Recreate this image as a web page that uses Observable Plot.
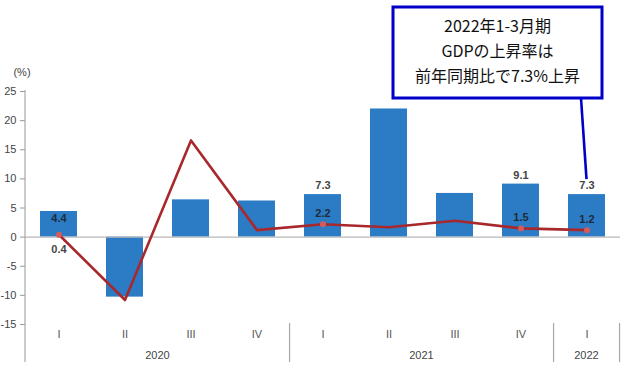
<!DOCTYPE html>
<html><head><meta charset="utf-8">
<script src="https://cdn.jsdelivr.net/npm/d3@7"></script>
<script src="https://cdn.jsdelivr.net/npm/@observablehq/plot@0.6"></script>
<style>body{margin:0;background:#fff}#chart{width:630px;height:374px}</style>
</head><body><div id="chart"></div>
<script>
const years = ["2020","2020","2020","2020","2021","2021","2021","2021","2022"];
const quarters = ["I","II","III","IV","I","II","III","IV","I"];
const yoy = [4.4, -10.3, 6.4, 6.2, 7.3, 22.0, 7.5, 9.1, 7.3];
const qoq = [0.4, -10.8, 16.6, 1.2, 2.2, 1.7, 2.8, 1.5, 1.2];
const yoyLabels = ["4.4", "", "", "", "7.3", "", "", "9.1", "7.3"];
const qoqLabels = ["0.4", "", "", "", "2.2", "", "", "1.5", "1.2"];
const yTicks = [-15, -10, -5, 0, 5, 10, 15, 20, 25];
const unitLabel = "(%)";
const calloutLines = ["2022年1-3月期", "GDPの上昇率は", "前年同期比で7.3%上昇"];

const keys = years.map((y, i) => `${y}-${quarters[i]}`);
const rows = keys.map((k, i) => ({key: k, q: quarters[i], year: years[i], yoy: yoy[i], qoq: qoq[i], yl: yoyLabels[i], ql: qoqLabels[i], i}));

const BAR = "#2b7bc5", LINE = "#a8282c", DOT = "#d65a5a";

const chart = Plot.plot({
  width: 630, height: 374,
  marginLeft: 25, marginRight: 10, marginTop: 91, marginBottom: 50,
  style: {fontFamily: "'Liberation Sans', Arial, sans-serif", fontSize: "11px", background: "#fff", overflow: "visible"},
  x: {domain: keys, paddingInner: 0.44, paddingOuter: 0.22, axis: null},
  y: {domain: [-15, 25], axis: null},
  marks: [
    Plot.barY(rows, {x: "key", y: "yoy", fill: BAR}),
    Plot.ruleY([0], {stroke: "#b8b8b8", strokeWidth: 1.2}),
    Plot.axisY({ticks: yTicks, tickFormat: d => String(d), tickSize: 5, tickPadding: 4, stroke: "#999", color: "#444", fontSize: 11}),
    Plot.line(rows, {x: "key", y: "qoq", stroke: LINE, strokeWidth: 2.6}),
    Plot.dot(rows.filter(d => d.ql), {x: "key", y: "qoq", r: 3, fill: DOT}),
    Plot.text(rows.filter(d => d.yl && d.i === 0), {x: "key", y: "yoy", text: "yl", dy: 7, fill: "#1e2b3a", fontWeight: "bold", fontSize: 11}),
    Plot.text(rows.filter(d => d.yl && d.i !== 0), {x: "key", y: "yoy", text: "yl", dy: -9, fill: "#444", fontWeight: "bold", fontSize: 11}),
    Plot.text(rows.filter(d => d.ql && d.i === 0), {x: "key", y: "qoq", text: "ql", dy: 15, fill: "#444", fontWeight: "bold", fontSize: 11}),
    Plot.text(rows.filter(d => d.ql && d.i !== 0), {x: "key", y: "qoq", text: "ql", dy: -11, fill: "#1e2b3a", fontWeight: "bold", fontSize: 11}),
    Plot.text(rows, {x: "key", text: "q", frameAnchor: "bottom", dy: 13, fill: "#555", fontSize: 11})
  ]
});
document.getElementById("chart").appendChild(chart);

// Post-layout using the chart's own scales
const svg = d3.select(chart);
const xs = chart.scale("x"), ys = chart.scale("y");
const [xr0, xr1] = xs.range;
const step = (xr1 - xr0) / keys.length;
const bw = xs.bandwidth;
const center = k => xs.apply(k) + bw / 2;
const bottom = 362;
const axisTop = ys.apply(25) - 1;
const frameBottom = ys.apply(-15);

const g = svg.append("g");
g.append("line").attr("x1", xr0).attr("x2", xr0).attr("y1", axisTop).attr("y2", bottom)
  .attr("stroke", "#a8a8a8").attr("stroke-width", 1.2);
const groups = d3.groups(keys.map((k, i) => ({k, i, y: years[i]})), d => d.y);
groups.forEach(([yr, items]) => {
  const last = items[items.length - 1];
  const xe = xs.apply(last.k) + bw + (step - bw) / 2;
  g.append("line").attr("x1", xe).attr("x2", xe).attr("y1", frameBottom - 1).attr("y2", bottom)
    .attr("stroke", "#a8a8a8").attr("stroke-width", 1.2);
  const cx = d3.mean(items, d => center(d.k));
  g.append("text").attr("x", cx).attr("y", 356).attr("text-anchor", "middle")
    .attr("dominant-baseline", "middle").attr("fill", "#444").attr("font-size", 11).text(yr);
});
g.append("text").attr("x", xr0 - 3).attr("y", 73).attr("text-anchor", "middle")
  .attr("dominant-baseline", "middle").attr("fill", "#444").attr("font-size", 11).text(unitLabel);

const lastKey = keys[keys.length - 1];
const c = svg.append("g");
c.append("line").attr("x1", 581).attr("y1", 98).attr("x2", center(lastKey)).attr("y2", ys.apply(yoy[yoy.length - 1]) - 15)
  .attr("stroke", "#0000c8").attr("stroke-width", 2.6);
c.append("rect").attr("x", 393).attr("y", 7).attr("width", 209).attr("height", 91)
  .attr("fill", "#fff").attr("stroke", "#0000c8").attr("stroke-width", 3);
calloutLines.forEach((t, i) => {
  c.append("text").attr("x", 497.5).attr("y", 28 + i * 25).attr("text-anchor", "middle")
    .attr("dominant-baseline", "middle").attr("fill", "#111")
    .attr("font-family", "'Noto Sans CJK JP', sans-serif").attr("font-size", 16).text(t);
});
</script>
</body></html>
